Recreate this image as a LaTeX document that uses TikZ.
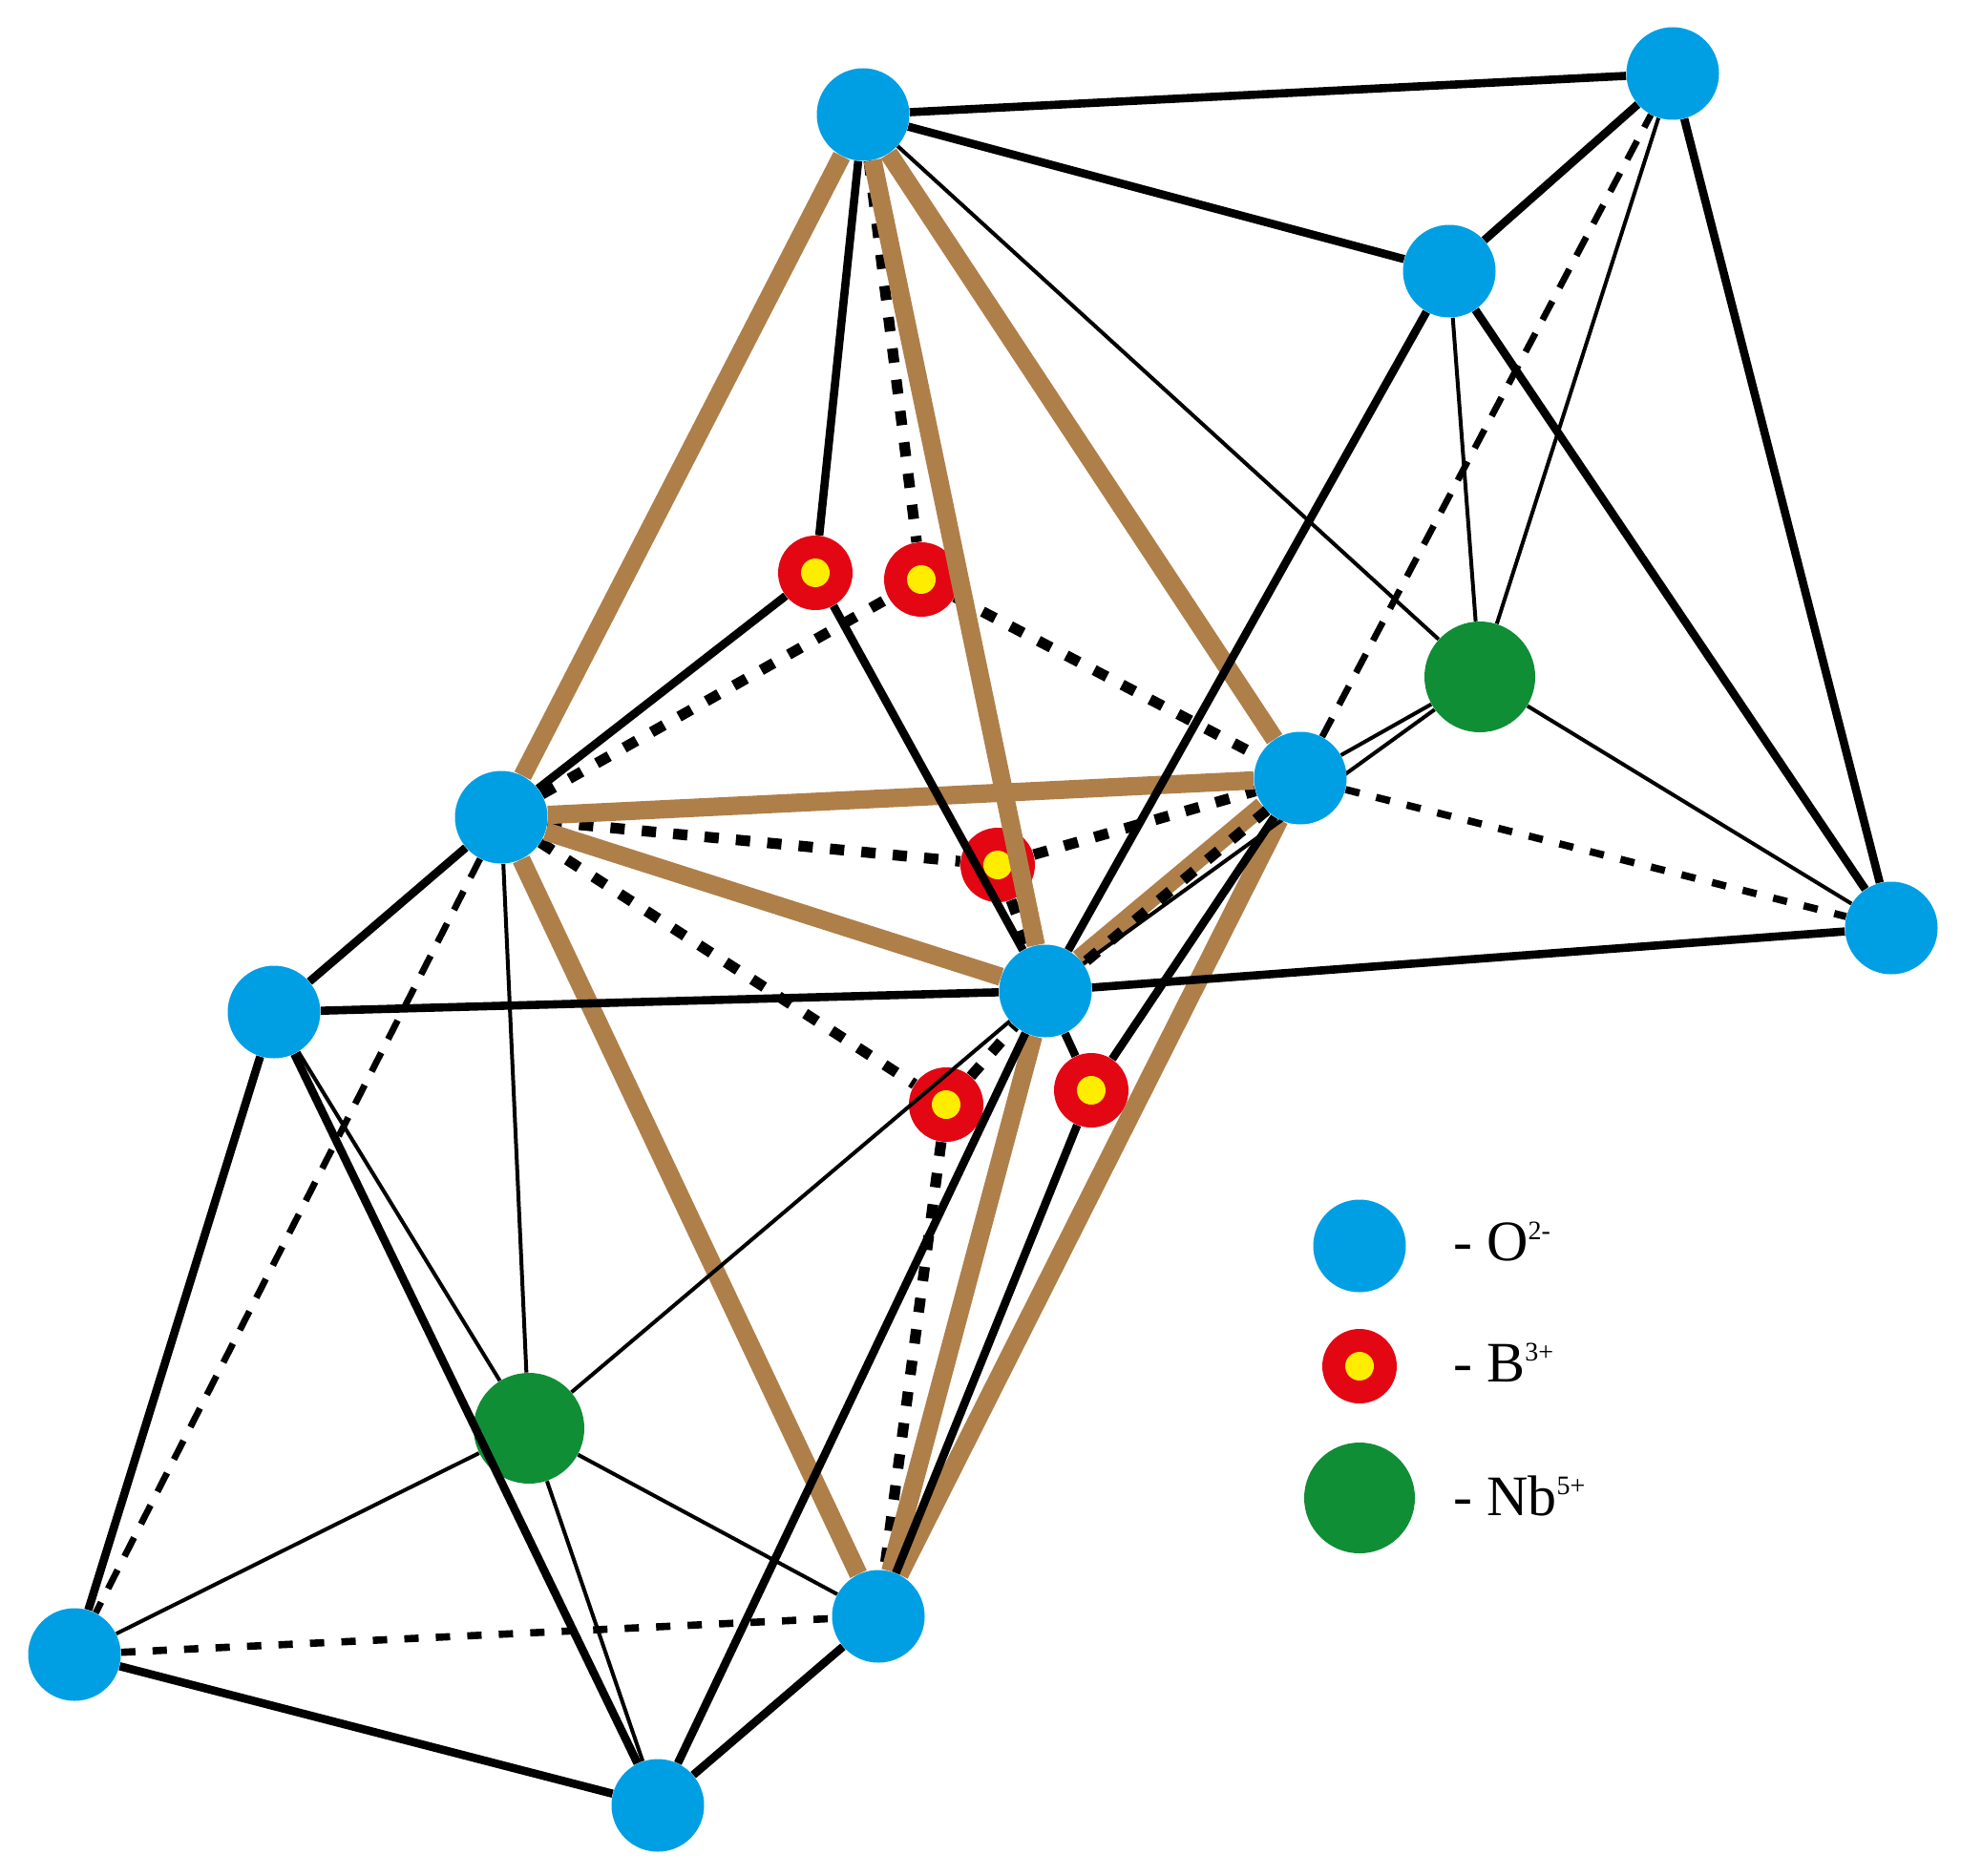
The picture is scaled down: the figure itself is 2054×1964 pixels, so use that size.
\documentclass[tikz,border=0pt]{standalone}
\usepackage{fontspec}
\setmainfont{Liberation Serif}
\pgfdeclarelayer{dashL}\pgfdeclarelayer{boronL}\pgfdeclarelayer{brownL}\pgfdeclarelayer{lineL}\pgfdeclarelayer{overL}
\pgfsetlayers{dashL,boronL,brownL,lineL,overL,main}
\definecolor{oxy}{HTML}{009FE3}
\definecolor{bor}{HTML}{E30613}
\definecolor{yel}{HTML}{FFED00}
\definecolor{nio}{HTML}{0F8E36}
\definecolor{bro}{HTML}{AF7F4A}
\newcommand{\supr}[1]{\raisebox{11pt}{\fontsize{14pt}{14pt}\selectfont #1}}
\tikzset{
 oion/.style={circle,fill=oxy,inner sep=0pt,minimum size=48.5pt},
 nion/.style={circle,fill=nio,inner sep=0pt,minimum size=58pt},
 bion/.style={circle,fill=bor,inner sep=0pt,minimum size=39pt},
 bcore/.style={circle,fill=yel,inner sep=0pt,minimum size=15pt},
 brownbar/.style={draw=bro,line width=9.6pt},
 heavy/.style={draw=black,line width=4.3pt},
 fine/.style={draw=black,line width=2pt},
 dashbold/.style={draw=black,line width=5.6pt,dash pattern=on 7.5pt off 9pt},
 dashmid/.style={draw=black,line width=3.8pt,dash pattern=on 7.5pt off 9pt},
 dashlong/.style={draw=black,line width=3.4pt,dash pattern=on 11pt off 8pt},
 legendtext/.style={anchor=base west,inner sep=0pt,font=\fontsize{30pt}{30pt}\selectfont}
}
\begin{document}
\begin{tikzpicture}[x=0.5pt,y=-0.5pt]
\useasboundingbox (0,0) rectangle (2054,1964);
% oxygen
\node[oion] (o1) at (904,120) {};
\node[oion] (o2) at (1752,77) {};
\node[oion] (o3) at (1518,284) {};
\node[oion] (o4) at (525,856) {};
\node[oion] (o5) at (1362,815) {};
\node[oion] (o6) at (1981,972) {};
\node[oion] (o7) at (287,1060) {};
\node[oion] (o8) at (1095,1038) {};
\node[oion] (o9) at (78,1733) {};
\node[oion] (o10) at (920,1693) {};
\node[oion] (o11) at (689,1891) {};
% niobium
\node[nion] (n1) at (1550,709) {};
\begin{pgfonlayer}{boronL}
\node[nion] (n2) at (554,1496) {};
\foreach \nm/\px/\py in {b1/854/600,b2/965/607,b3/1045/906,b4/991/1157,b5/1143/1142}{
  \node[bion] (\nm) at (\px,\py) {};
  \node[bcore] (\nm c) at (\px,\py) {};
}
\end{pgfonlayer}
% dashed
\begin{pgfonlayer}{dashL}
\draw[dashbold] (o1) -- (b2);
\draw[dashbold] (o4) -- (b2);
\draw[dashbold] (b2) -- (o5);
\draw[dashbold] (o4) -- (b3);
\draw[dashbold] (b3) -- (o5);
\draw[dashbold] (b3) -- (o8);
\draw[dashbold] (o4) -- (b4);
\draw[dashbold] (b4) -- (o8);
\draw[dashbold] (b4) -- (o10);
\end{pgfonlayer}
% brown
\begin{pgfonlayer}{brownL}
\draw[brownbar] (o1) -- (o4);
\draw[brownbar] (o1) -- (o8);
\draw[brownbar] (o1) -- (o5);
\draw[brownbar] (o4) -- (o5);
\draw[brownbar] (o4) -- (o8);
\draw[brownbar] (o4) -- (o10);
\draw[brownbar,transform canvas={shift={(-1.2pt,1.2pt)}}] (o5) -- (o8);
\draw[brownbar] (o5) -- (o10);
\draw[brownbar] (o8) -- (o10);
\end{pgfonlayer}
% solid lines
\begin{pgfonlayer}{lineL}
\draw[heavy] (o1) -- (o2);
\draw[heavy] (o1) -- (o3);
\draw[heavy] (o2) -- (o3);
\draw[heavy] (o2) -- (o6);
\draw[heavy] (o3) -- (o6);
\draw[heavy] (o3) -- (o8);
\draw[heavy] (o1) -- (b1);
\draw[heavy] (o4) -- (b1);
\draw[heavy] (b1) -- (o8);
\draw[heavy] (o4) -- (o7);
\draw[heavy] (o7) -- (o8);
\draw[heavy] (o8) -- (o6);
\draw[heavy] (o7) -- (o9);
\draw[heavy] (o7) -- (o11);
\draw[heavy] (o9) -- (o11);
\draw[heavy] (o10) -- (o11);
\draw[heavy] (o11) -- (o8);
\draw[heavy] (o8) -- (b5);
\draw[heavy] (b5) -- (o5);
\draw[heavy] (b5) -- (o10);
\draw[fine] (o1) -- (n1);
\draw[fine] (o3) -- (n1);
\draw[fine] (o2) -- (n1);
\draw[fine] (n1) -- (o5);
\draw[fine] (n1) -- (o8);
\draw[fine] (n1) -- (o6);
\draw[fine] (n2) -- (o4);
\draw[fine] (n2) -- (o7);
\draw[fine] (n2) -- (o9);
\draw[fine] (n2) -- (o10);
\draw[fine] (n2) -- (o11);
\draw[fine] (n2) -- (o8);
\end{pgfonlayer}
\begin{pgfonlayer}{overL}
\draw[dashbold,transform canvas={shift={(1.2pt,-1.2pt)}}] (o5) -- (o8);
\draw[dashmid] (o9) -- (o10);
\draw[dashmid] (o5) -- (o6);
\draw[dashlong] (o5) -- (o2);
\draw[dashlong] (o4) -- (o9);
\end{pgfonlayer}
% legend
\node[oion] (lo) at (1424,1305) {};
\node[bion] (lb) at (1424,1431) {};
\node[bcore] (lbc) at (1424,1431) {};
\node[nion] (ln) at (1424,1569) {};
\node[legendtext] (to) at (1522,1320) {- O\supr{2-}};
\node[legendtext] (tb) at (1522,1447) {- B\supr{3+}};
\node[legendtext] (tn) at (1522,1587) {- Nb\supr{5+}};
\end{tikzpicture}
\end{document}
